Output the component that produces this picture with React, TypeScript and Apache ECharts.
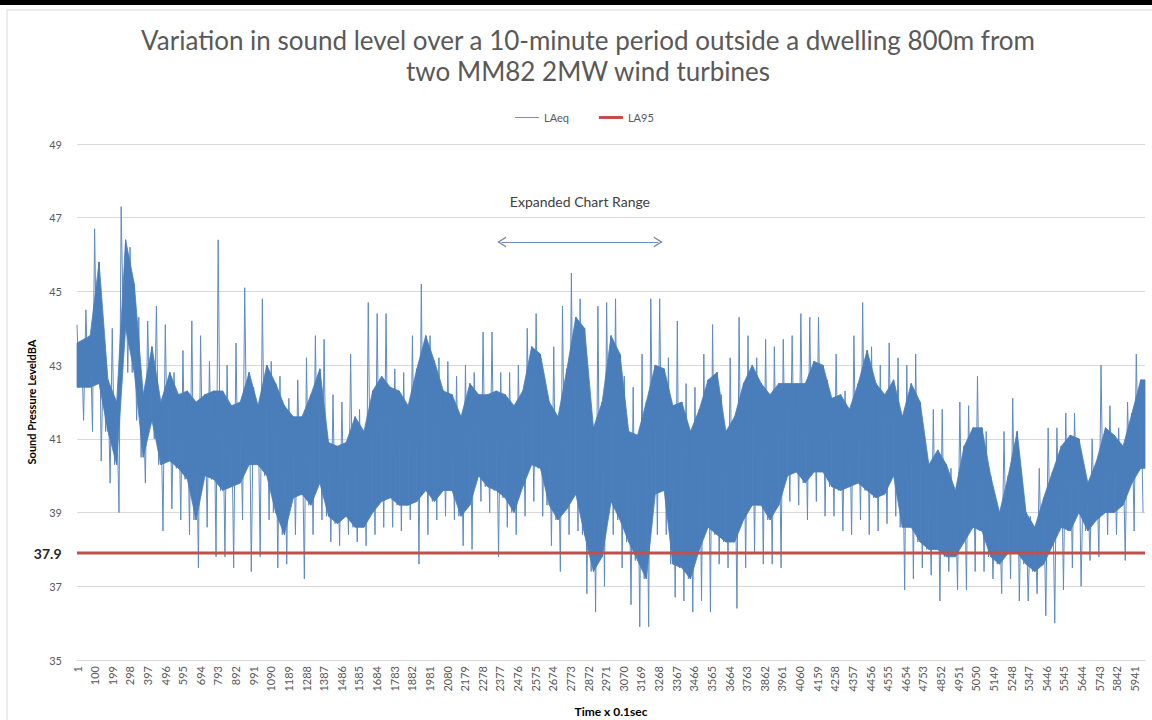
import React, { useEffect, useRef } from "react";
import * as echarts from "echarts";

// ---- data -------------------------------------------------------------
const N = 6000; // samples, Time x 0.1 sec
const categories: string[] = Array.from({ length: N }, (_, i) => String(i + 1));

// LAeq in 121 equal buckets along the time axis:
// highest spike, top of the dense band, bottom of the dense band, lowest spike
const peak = [
  44.1, 44.5, 46.7, 43.6, 44.0, 47.3, 46.2, 44.3, 44.2, 44.6, 44.1, 42.8, 43.4, 44.2, 43.8, 43.1,
  46.4, 43.0, 43.6, 45.1, 42.4, 44.8, 43.1, 42.7, 42.1, 42.6, 43.2, 43.8, 43.7, 42.2, 42.0, 43.3,
  41.8, 44.7, 44.4, 44.4, 42.9, 42.8, 43.8, 45.2, 43.8, 43.2, 43.1, 42.7, 43.0, 42.8, 43.9, 43.9,
  42.8, 42.8, 43.0, 44.0, 44.4, 42.5, 43.5, 44.6, 45.5, 44.8, 42.2, 44.6, 44.7, 44.8, 42.7, 42.4,
  43.3, 44.8, 44.8, 43.2, 44.2, 42.5, 42.4, 43.3, 44.1, 42.2, 43.2, 44.3, 43.8, 43.2, 43.7, 43.5,
  43.7, 43.8, 44.4, 44.3, 44.3, 42.6, 43.3, 42.3, 43.8, 44.7, 43.5, 43.0, 43.6, 43.2, 43.0, 43.3,
  41.0, 41.8, 41.8, 40.2, 42.0, 41.9, 42.7, 41.2, 39.3, 41.2, 42.1, 39.9, 38.9, 40.2, 41.3, 41.3,
  41.7, 41.7, 40.2, 41.0, 43.0, 41.9, 41.3, 42.0, 43.3,
];
const upper = [
  43.6, 43.8, 45.8, 42.6, 42.0, 46.4, 45.2, 42.2, 43.5, 42.0, 42.8, 42.2, 42.3, 42.0, 42.2, 42.3,
  42.3, 41.9, 42.0, 42.8, 41.9, 43.0, 42.5, 41.9, 41.6, 41.6, 42.2, 42.9, 40.9, 40.8, 40.9, 41.6,
  41.2, 42.3, 42.7, 42.4, 42.3, 41.9, 42.9, 43.8, 43.1, 42.3, 42.2, 41.6, 42.5, 42.2, 42.2, 42.3,
  42.2, 41.9, 42.3, 43.5, 43.3, 42.0, 41.6, 42.9, 44.3, 44.0, 41.3, 42.0, 43.8, 43.3, 41.2, 41.1,
  42.0, 43.0, 42.9, 41.9, 42.0, 41.2, 41.8, 42.6, 42.8, 41.2, 41.6, 42.5, 43.0, 42.5, 42.2, 42.5,
  42.5, 42.5, 42.5, 43.1, 43.0, 42.1, 42.2, 41.8, 42.5, 43.4, 42.5, 42.2, 42.6, 41.6, 42.5, 42.0,
  40.3, 40.7, 40.3, 39.6, 40.8, 41.3, 41.3, 40.0, 39.0, 40.0, 41.2, 39.0, 38.6, 39.4, 40.1, 40.8,
  41.1, 41.0, 39.8, 40.4, 41.3, 41.1, 40.8, 41.7, 42.6,
];
const lower = [
  42.4, 42.4, 42.5, 41.2, 40.3, 44.0, 42.8, 40.5, 41.5, 40.3, 40.4, 40.2, 39.9, 38.8, 40.0, 39.9,
  39.6, 39.7, 39.8, 40.3, 40.3, 40.0, 39.0, 38.4, 39.4, 39.5, 39.2, 39.8, 38.9, 38.7, 38.9, 38.6,
  38.6, 39.0, 39.3, 39.4, 39.2, 39.2, 39.3, 39.6, 39.3, 39.6, 39.6, 38.9, 39.2, 40.0, 39.7, 39.6,
  39.4, 39.0, 39.7, 40.3, 40.2, 39.2, 38.8, 39.1, 39.5, 38.4, 37.4, 37.8, 39.3, 38.8, 38.2, 37.7,
  37.2, 39.5, 39.6, 37.6, 37.5, 37.2, 38.0, 38.6, 38.4, 38.2, 38.2, 38.8, 39.2, 39.2, 38.8, 39.2,
  40.0, 40.1, 39.8, 40.1, 40.1, 39.7, 39.6, 39.7, 39.8, 39.6, 39.4, 39.5, 40.0, 38.6, 38.6, 38.2,
  38.0, 38.0, 37.8, 37.8, 38.2, 38.6, 38.5, 37.8, 37.6, 37.9, 37.9, 37.6, 37.4, 37.6, 38.1, 38.6,
  38.5, 39.0, 38.5, 38.8, 39.0, 39.0, 39.2, 39.8, 40.2,
];
const trough = [
  41.5, 41.2, 40.4, 39.8, 39.0, 42.8, 41.5, 39.8, 41.0, 38.5, 39.1, 38.8, 38.4, 37.5, 38.6, 37.8,
  37.8, 37.5, 38.8, 37.4, 37.8, 38.8, 37.5, 37.6, 38.4, 37.2, 38.4, 38.8, 38.2, 38.1, 38.4, 38.2,
  38.1, 38.4, 38.6, 38.6, 38.5, 38.8, 37.6, 38.4, 38.8, 38.9, 38.8, 38.1, 38.0, 39.3, 39.0, 37.8,
  38.6, 38.4, 38.9, 39.3, 38.9, 38.1, 37.4, 38.4, 38.5, 36.8, 36.3, 37.0, 38.4, 37.5, 36.5, 35.9,
  35.9, 38.4, 38.4, 36.7, 36.6, 36.3, 36.6, 36.3, 37.6, 37.5, 36.4, 37.5, 37.9, 37.6, 37.6, 37.5,
  39.3, 39.2, 38.8, 39.3, 38.9, 38.9, 38.5, 38.4, 38.8, 38.4, 38.5, 38.7, 38.9, 36.9, 37.2, 37.5,
  37.3, 36.6, 37.4, 36.9, 36.9, 37.4, 37.4, 37.2, 36.8, 37.2, 36.6, 36.6, 36.8, 36.2, 36.0, 36.9,
  37.5, 37.0, 37.7, 37.8, 38.4, 38.4, 37.7, 38.5, 39.0,
];

const LA95 = 37.9;
const yTicks = [35, 37, 39, 41, 43, 45, 47, 49];

// "Expanded Chart Range" annotation (time index range and level)
const rangeStart = 2385;
const rangeEnd = 3265;
const rangeLevel = 46.34;
const rangeLabelLevel = 47.43;
const rangeLabel = "Expanded Chart Range";

// ---- build series ------------------------------------------------------
const COUNT = peak.length;
const bucketIdx = (i: number, frac: number) => Math.round(((i + frac) * N) / COUNT);

function buildLAeq(): [number, number][] {
  const pts: [number, number][] = [];
  for (let i = 0; i < COUNT; i++) {
    const vals = [peak[i], lower[i], upper[i], trough[i]];
    for (let k = 0; k < 4; k++) pts.push([bucketIdx(i, k / 4), vals[k]]);
  }
  return pts;
}

// dense core band of the trace: one item per bucket [x, lower, upper]
function buildCore(): [number, number, number][] {
  return peak.map((_, i) => [bucketIdx(i, 0.5), lower[i], upper[i]]);
}

const chevron = "path://M5 0 L10 9 L8.6 9 L5 2.6 L1.4 9 L0 9 Z";
const BLUE = "#4a7ebb";
const SPIKE = "#5f8bc2";
const RED = "#c0504d";

export default function App() {
  const ref = useRef<HTMLDivElement>(null);

  useEffect(() => {
    if (!ref.current) return;
    const chart = echarts.init(ref.current, undefined, { renderer: "svg" });
    const font = "Lato, 'Open Sans', sans-serif";
    const core = buildCore();
    chart.setOption({
      animation: false,
      backgroundColor: "#ffffff",
      textStyle: { fontFamily: font },
      title: {
        text:
          "Variation in sound level over a 10-minute period outside a dwelling 800m from\ntwo MM82 2MW wind turbines",
        left: 583,
        textAlign: "center",
        top: 19,
        textStyle: {
          fontSize: 26,
          fontWeight: "normal",
          color: "#595959",
          lineHeight: 31,
          fontFamily: font,
        },
      },
      legend: {
        top: 107,
        left: 510,
        itemWidth: 24,
        itemHeight: 3,
        itemGap: 30,
        data: [
          { name: "LAeq", icon: "path://M0 0 M0 1 L30 1 L30 2 L0 2 Z M30 3" },
          { name: "LA95", icon: "rect" },
        ],
        textStyle: { fontSize: 11, color: "#595959" },
      },
      graphic: [
        { type: "rect", shape: { x: 0, y: 0, width: 1152, height: 5 }, style: { fill: "#000" }, silent: true },
        {
          type: "rect",
          shape: { x: 7, y: 10, width: 1170, height: 730 },
          style: { fill: "none", stroke: "#d9d9d9", lineWidth: 1 },
          silent: true,
        },
      ],
      grid: {
        left: 77,
        right: 7,
        top: 144,
        bottom: 60,
        containLabel: false,
        outerBoundsMode: "none",
      },
      xAxis: {
        type: "category",
        data: categories,
        boundaryGap: false,
        axisLine: { lineStyle: { color: "#d9d9d9" } },
        axisTick: { show: false },
        axisLabel: { interval: 98, rotate: 90, fontSize: 11, color: "#595959", margin: 6 },
        splitLine: { show: false },
        name: "Time x 0.1sec",
        nameLocation: "middle",
        nameGap: 45,
        nameTextStyle: { fontSize: 12, fontWeight: "bold", color: "#000" },
      },
      yAxis: {
        type: "value",
        min: 35,
        max: 49,
        interval: 1,
        axisLine: { show: false },
        axisTick: { show: false },
        axisLabel: {
          fontSize: 11,
          color: "#595959",
          margin: 15,
          formatter: (v: number) => (yTicks.indexOf(v) >= 0 ? String(v) : ""),
        },
        splitLine: { lineStyle: { color: ["#d9d9d9", "rgba(0,0,0,0)"], width: 1 } },
        name: "Sound Pressure LeveldBA",
        nameLocation: "middle",
        nameGap: 40,
        nameTextStyle: { fontSize: 11, fontWeight: "bold", color: "#000" },
      },
      series: [
        {
          name: "LAeq core",
          type: "custom",
          silent: true,
          z: 3,
          data: core,
          encode: { x: 0, y: [1, 2] },
          renderItem: (params: any, api: any) => {
            const i = params.dataIndex;
            const j = Math.min(i + 1, core.length - 1);
            const x0 = i === 0 ? 0 : core[i][0];
            const x1 = i === core.length - 1 ? N - 1 : core[j][0];
            const pts = [
              api.coord([x0, core[i][2]]),
              api.coord([x1, core[j][2]]),
              api.coord([x1, core[j][1]]),
              api.coord([x0, core[i][1]]),
            ];
            return {
              type: "polygon",
              shape: { points: pts },
              style: { fill: BLUE, stroke: BLUE, lineWidth: 0.8 },
            };
          },
        },
        {
          name: "LAeq",
          type: "line",
          data: buildLAeq(),
          symbol: "none",
          color: BLUE,
          lineStyle: { width: 1, color: SPIKE },
          z: 2,
          markLine: {
            silent: true,
            symbol: [chevron, chevron],
            symbolSize: [11, 9],
            label: { show: false },
            lineStyle: { color: "#6f8db0", width: 1, type: "solid" },
            data: [[{ coord: [rangeStart, rangeLevel] }, { coord: [rangeEnd, rangeLevel] }]],
          },
          markPoint: {
            silent: true,
            symbol: "circle",
            symbolSize: 1,
            itemStyle: { color: "rgba(0,0,0,0)" },
            label: {
              show: true,
              position: "inside",
              formatter: rangeLabel,
              fontSize: 14,
              color: "#404040",
            },
            data: [{ coord: [Math.round((rangeStart + rangeEnd) / 2), rangeLabelLevel] }],
          },
        },
        {
          name: "LA95",
          type: "line",
          data: [
            [0, LA95],
            [N - 1, LA95],
          ],
          symbol: "none",
          color: RED,
          lineStyle: { width: 3, color: RED },
          z: 4,
          markPoint: {
            silent: true,
            symbol: "circle",
            symbolSize: 1,
            itemStyle: { color: "rgba(0,0,0,0)" },
            label: {
              show: true,
              position: "left",
              distance: 15,
              formatter: LA95.toFixed(1),
              fontSize: 14,
              fontWeight: "bold",
              color: "#262626",
            },
            data: [{ coord: [0, LA95] }],
          },
        },
      ],
    });
    return () => chart.dispose();
  }, []);

  return (
    <div
      ref={ref}
      style={{ position: "fixed", left: 0, top: 0, width: 1152, height: 720, background: "#fff" }}
    />
  );
}
